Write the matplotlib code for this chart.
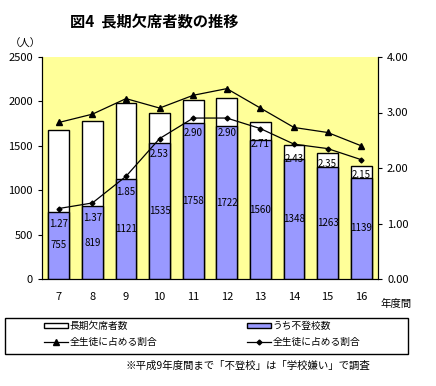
import numpy as np
import matplotlib.pyplot as plt
from matplotlib.patches import Patch, Rectangle
from matplotlib.lines import Line2D

plt.rcParams['font.family'] = ['Noto Sans CJK JP', 'DejaVu Sans']

years = ['7', '8', '9', '10', '11', '12', '13', '14', '15', '16']
long_absent = [1677, 1779, 1983, 1870, 2014, 2036, 1765, 1511, 1414, 1278]
futoko = [755, 819, 1121, 1535, 1758, 1722, 1560, 1348, 1263, 1139]
rate_absent = [2.82, 2.97, 3.25, 3.08, 3.31, 3.43, 3.08, 2.73, 2.64, 2.40]
rate_futoko = [1.27, 1.37, 1.85, 2.53, 2.90, 2.90, 2.71, 2.43, 2.35, 2.15]

BAR_BLUE = '#9999ff'
BG_YELLOW = '#ffff99'

W, H = 436, 386
fig = plt.figure(figsize=(W / 100, H / 100), dpi=100)
ax = fig.add_axes([42 / W, 1 - 279 / H, 336 / W, 222 / H])
ax.set_facecolor(BG_YELLOW)

x = np.arange(len(years))
bw = 0.62
ax.bar(x, long_absent, bw, color='white', edgecolor='black', linewidth=1, zorder=2)
ax.bar(x, futoko, bw, color=BAR_BLUE, edgecolor='black', linewidth=1, zorder=3)
for xi, v in zip(x, futoko):
    ax.text(xi, v / 2, str(v), ha='center', va='center', fontsize=7, zorder=4)

ax.set_xlim(-0.5, len(years) - 0.5)
ax.set_ylim(0, 2500)
ax.set_yticks(np.arange(0, 2501, 500))
ax.set_xticks(x)
ax.set_xticklabels(years)
ax.tick_params(axis='y', labelsize=8, length=3)
ax.tick_params(axis='x', labelsize=8, length=0, pad=9)
ax.spines['top'].set_visible(False)

ax2 = ax.twinx()
ax2.set_ylim(0, 4)
ax2.set_yticks(np.arange(0, 4.01, 1))
ax2.set_yticklabels(['%.2f' % t for t in np.arange(0, 4.01, 1)])
ax2.tick_params(axis='y', labelsize=8, length=3)
ax2.spines['top'].set_visible(False)
ax2.plot(x, rate_absent, color='black', lw=0.9, marker='^', ms=4, zorder=5)
ax2.plot(x, rate_futoko, color='black', lw=0.9, marker='D', ms=2.5, zorder=5)
for xi, v in zip(x, rate_futoko):
    ax2.annotate('%.2f' % v, (xi, v), xytext=(0, -11), textcoords='offset points',
                 ha='center', va='center', fontsize=7, zorder=6)

fig.text(70 / W, 1 - 22 / H, '図4  長期欠席者数の推移', fontsize=11,
         fontweight='bold', va='center', ha='left')
fig.text(10 / W, 1 - 44 / H, '（人）', fontsize=7.5, va='center', ha='left')
fig.text(380 / W, 1 - 304 / H, '年度間', fontsize=7.5, va='center', ha='left')
fig.text(370 / W, 1 - 366 / H, '※平成9年度間まで「不登校」は「学校嫌い」で調査',
         fontsize=7.5, va='center', ha='right')

# legend box drawn separately so the entries can sit indented inside it
fig.patches.append(Rectangle((5 / W, 1 - 354 / H), 403 / W, 36 / H,
                             transform=fig.transFigure, facecolor='none',
                             edgecolor='black', linewidth=1))
handles = [
    Patch(facecolor='white', edgecolor='black', linewidth=1),
    Line2D([], [], color='black', lw=0.9, marker='^', ms=4),
    Patch(facecolor=BAR_BLUE, edgecolor='black', linewidth=1),
    Line2D([], [], color='black', lw=0.9, marker='D', ms=2.5),
]
labels = ['長期欠席者数', '全生徒に占める割合', 'うち不登校数', '全生徒に占める割合']
fig.legend(handles, labels, ncol=2, loc='upper left',
           bbox_to_anchor=(44 / W, 1 - 321 / H), fontsize=7,
           frameon=False, borderaxespad=0, borderpad=0,
           handlelength=2.45, handleheight=0.45,
           columnspacing=9.2, labelspacing=0.6, handletextpad=0.2)

fig.savefig('out.png', dpi=100)
